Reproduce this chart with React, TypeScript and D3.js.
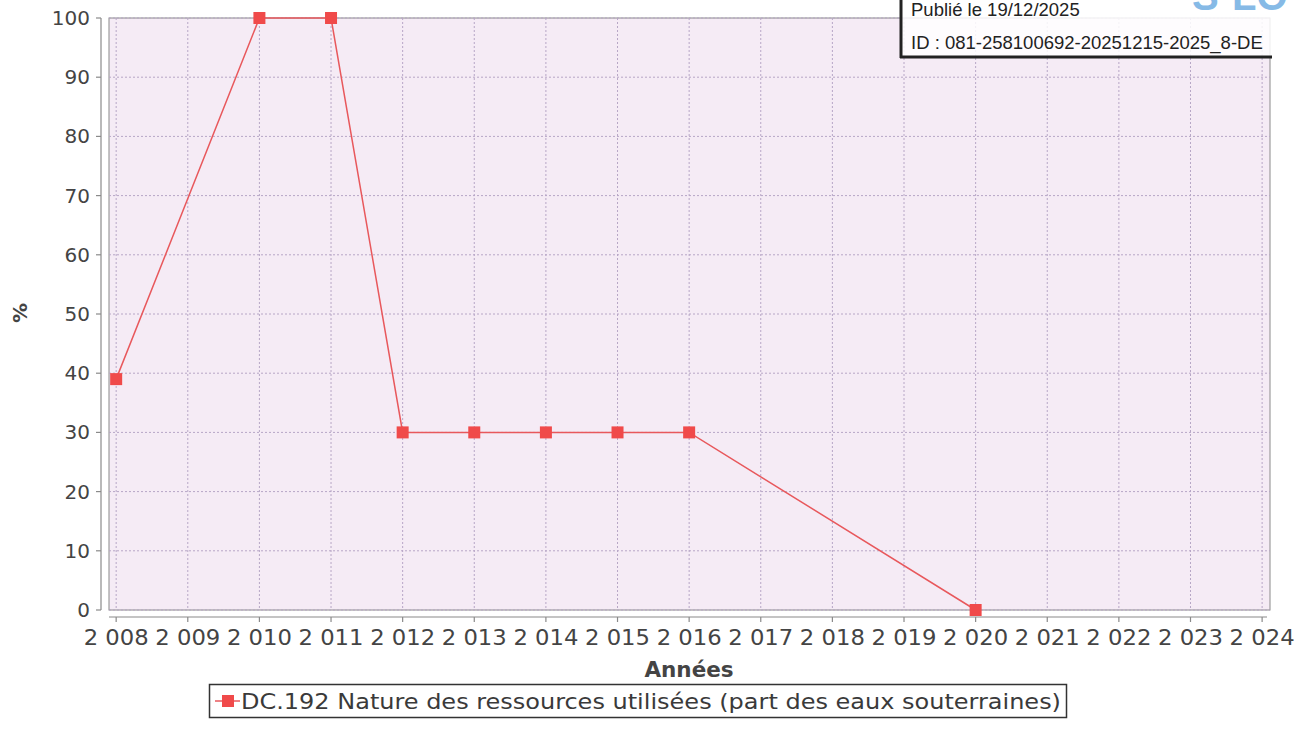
import React from 'react';
import * as d3 from 'd3';

const years = [2008, 2010, 2011, 2012, 2013, 2014, 2015, 2016, 2020];
const values = [39, 100, 100, 30, 30, 30, 30, 30, 0];
const xTicks = d3.range(2008, 2025);
const yTicks = d3.range(0, 101, 10);
const seriesName = 'DC.192 Nature des ressources utilisées (part des eaux souterraines)';

const W = 1311;
const H = 745;
const plot = { left: 109, right: 1270, top: 18, bottom: 610 };

const fmtYear = (y: number) => {
  const s = String(y);
  return s.slice(0, 1) + ' ' + s.slice(1);
};

const App = () => {
  const x = d3.scaleLinear().domain([2007.9, 2024.11]).range([plot.left, plot.right]);
  const y = d3.scaleLinear().domain([0, 100]).range([plot.bottom, plot.top]);

  const points = years.map((yr, i) => ({ yr, v: values[i] }));
  const line = d3.line<{ yr: number; v: number }>()
    .x(d => x(d.yr))
    .y(d => y(d.v));

  const axisY = 101;
  const axisX = 617;
  const grid = '#b7a6c6';
  const axisCol = '#8a8a8a';
  const font = 'DejaVu Sans, sans-serif';
  const stampFont = 'Liberation Sans, Arial, sans-serif';

  return (
    <svg width={W} height={H} style={{ position: 'absolute', left: 0, top: 0, background: '#fff' }}>
      {/* plot area */}
      <rect x={plot.left} y={plot.top} width={plot.right - plot.left} height={plot.bottom - plot.top}
        fill="#f5ebf5" stroke={axisCol} strokeWidth={1} />
      {xTicks.map(t => (
        <line key={'gx' + t} x1={x(t)} x2={x(t)} y1={plot.top} y2={plot.bottom}
          stroke={grid} strokeWidth={1} strokeDasharray="2,2" />
      ))}
      {yTicks.map(t => (
        <line key={'gy' + t} x1={plot.left} x2={plot.right} y1={y(t)} y2={y(t)}
          stroke={grid} strokeWidth={1} strokeDasharray="2,2" />
      ))}

      {/* y axis */}
      <line x1={axisY} x2={axisY} y1={plot.top} y2={plot.bottom} stroke={axisCol} strokeWidth={1.2} />
      {yTicks.map(t => (
        <g key={'ty' + t}>
          <line x1={axisY - 5} x2={axisY} y1={y(t)} y2={y(t)} stroke={axisCol} strokeWidth={1.2} />
          <text x={axisY - 11} y={y(t) + 7} textAnchor="end" fontFamily={font} fontSize={20} fill="#444">{t}</text>
        </g>
      ))}
      <text transform={`translate(27,313) rotate(-90)`} textAnchor="middle" fontFamily={font}
        fontWeight="bold" fontSize={20} fill="#444">%</text>

      {/* x axis */}
      <line x1={plot.left} x2={plot.right - 3} y1={axisX} y2={axisX} stroke={axisCol} strokeWidth={1.2} />
      {xTicks.map(t => (
        <g key={'tx' + t}>
          <line x1={x(t)} x2={x(t)} y1={axisX} y2={axisX + 5} stroke={axisCol} strokeWidth={1.2} />
          <text x={x(t)} y={645} textAnchor="middle" fontFamily={font} fontSize={21} fill="#444"
            textLength={65} lengthAdjust="spacingAndGlyphs">{fmtYear(t)}</text>
        </g>
      ))}
      <text x={689} y={677} textAnchor="middle" fontFamily={font} fontWeight="bold" fontSize={21.5} fill="#444">Années</text>

      {/* series */}
      <path d={line(points) || ''} fill="none" stroke="#e8585c" strokeWidth={1.5} />
      {points.map(p => (
        <rect key={'m' + p.yr} x={x(p.yr) - 6} y={y(p.v) - 6} width={12} height={12} fill="#f04a4a" />
      ))}

      {/* legend */}
      <rect x={209.5} y={684.5} width={857} height={33} fill="#fff" stroke="#333" strokeWidth={1.5} />
      <line x1={215} x2={240} y1={701} y2={701} stroke="#e8585c" strokeWidth={1.5} />
      <rect x={222} y={695} width={12} height={12} fill="#f04a4a" />
      <text x={241} y={708.5} fontFamily="DejaVu Sans Condensed, DejaVu Sans, sans-serif" fontSize={21}
        textLength={820} lengthAdjust="spacingAndGlyphs" fill="#3a3a3a">{seriesName}</text>

      {/* stamp */}
      <rect x={900} y={-5} width={420} height={62} fill="#fff" fillOpacity={0.85} />
      <text x={1192} y={10} fontFamily={stampFont} fontWeight="bold" fontSize={40}
        fill="#86bae6">S²LO</text>
      <line x1={901} x2={901} y1={0} y2={58} stroke="#222" strokeWidth={3} />
      <line x1={900} x2={1272} y1={57} y2={57} stroke="#222" strokeWidth={3} />
      <text x={911} y={16} fontFamily={stampFont} fontSize={18.5} fill="#222">Publié le 19/12/2025</text>
      <text x={911} y={49} fontFamily={stampFont} fontSize={18.5} fill="#222">ID : 081-258100692-20251215-2025_8-DE</text>
    </svg>
  );
};

export default App;
